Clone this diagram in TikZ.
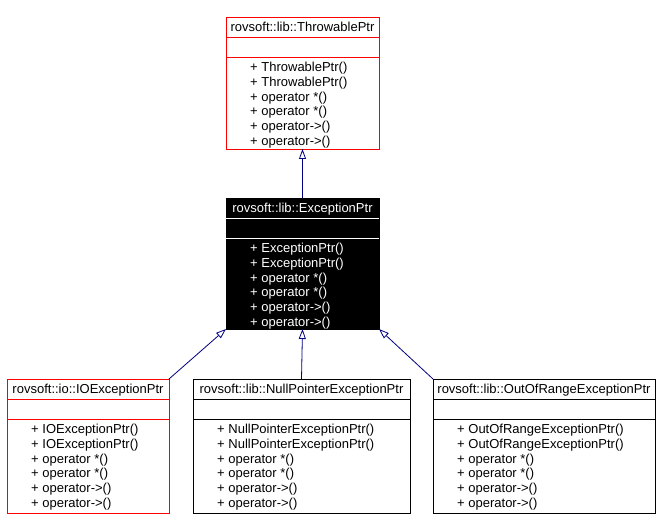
\documentclass[tikz,border=0pt]{standalone}
\usepackage{fontspec}
\setmainfont{Liberation Sans}
\usepackage{tikz}
\usetikzlibrary{arrows.meta}
\usetikzlibrary{calc}
\definecolor{umlblue}{RGB}{0,0,128}
\tikzset{classbox/.style={draw, line width=.9pt, inner sep=0pt, outer sep=0pt}}
\tikzset{classtext/.style={inner sep=0pt, font=\fontsize{13}{15}\selectfont}}
\tikzset{inherit/.style={draw=umlblue, line width=.8pt, -{Triangle[open, length=10pt, width=7pt]}}}

\begin{document}
\begin{tikzpicture}[x=1pt,y=-1pt]
  \useasboundingbox (0,0) rectangle (662,529);
  \foreach \n/\xa/\xb/\ya/\yb/\col/\bg/\fg/\lc/\hd/\meth in {
    thr/226/379/17/149/red/white/black/red/rovsoft::lib::ThrowablePtr/ThrowablePtr,
    exc/226/379/198/329/black/black/white/white/rovsoft::lib::ExceptionPtr/ExceptionPtr,
    ioe/7/169/379/513/red/white/black/red/rovsoft::io::IOExceptionPtr/IOExceptionPtr,
    npe/193/410/379/513/black/white/black/black/rovsoft::lib::NullPointerExceptionPtr/NullPointerExceptionPtr,
    oor/433/655/379/513/black/white/black/black/rovsoft::lib::OutOfRangeExceptionPtr/OutOfRangeExceptionPtr%
  } {
    \node[classbox, draw=\col, fill=\bg, minimum width=\xb pt-\xa pt,
      minimum height=\yb pt-\ya pt] (\n) at ({(\xa+\xb)/2},{(\ya+\yb)/2}) {};
    \draw[\lc, line width=.9pt] ({\xa},{\ya+20}) -- ({\xb},{\ya+20});
    \draw[\lc, line width=.9pt] ({\xa},{\ya+40}) -- ({\xb},{\ya+40});
    \node[classtext, text=\fg, anchor=base] (\n-hd) at ({(\xa+\xb)/2},{\ya+14.5}) {\hd};
    \foreach \lab [count=\i from 0] in {\meth(), \meth(), operator *(), operator *(), operator->(), operator->()} {
      \node[classtext, text=\fg, anchor=base west] (\n-m\i) at ({\xa+24},{\ya+54.5+\i*14.8}) {+ \lab};
    }
  }
  \begin{scope}[every edge/.append style={inherit}]
    \foreach \u/\v in {
      exc.north/thr.south,
      npe.north/exc.south,
      ioe.north east/exc.south west,
      oor.north west/exc.south east%
    }{
      \draw (\u) edge (\v);
    }
  \end{scope}
\end{tikzpicture}
\end{document}
